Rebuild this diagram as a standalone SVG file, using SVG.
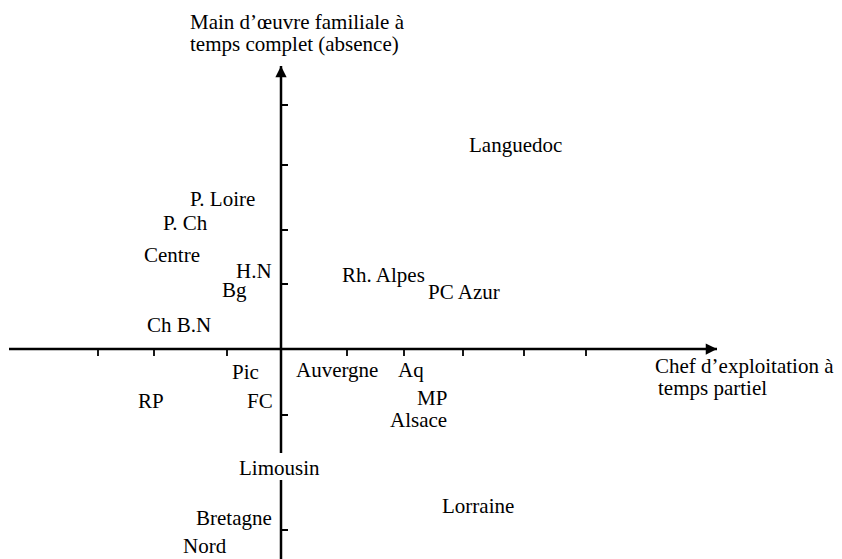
<svg xmlns="http://www.w3.org/2000/svg" width="842" height="559" viewBox="0 0 842 559">
<style>
text{font-family:"Liberation Serif","Times New Roman",serif;font-size:21px;fill:#000}
.ax{stroke:#000;stroke-width:2.5;fill:none}
.tk{stroke:#000;stroke-width:1.8;fill:none}
</style>
<defs>
<marker id="ah" viewBox="0 0 10 10" refX="10" refY="5" markerWidth="7.5" markerHeight="4.5" markerUnits="strokeWidth" orient="auto"><path d="M0,0 L10,5 L0,10 Z" fill="#000"/></marker>
</defs>
<rect width="842" height="559" fill="#fff"/>
<g id="connectors">
<path class="ax" d="M9,349 H717" marker-end="url(#ah)"/>
<path class="ax" d="M281,453 V66" marker-end="url(#ah)"/>
<path class="ax" d="M281,480 V559"/>
<path class="tk" d="M98,349 v7 M154,349 v7 M227,349 v7 M347,349 v7 M404,349 v7 M463,349 v7 M524,349 v7 M586,349 v7"/>
<path class="tk" d="M281,105 h7 M281,165 h7 M281,230 h7 M281,284 h7 M281,415 h7 M281,530 h7"/>
</g>
<g id="axis-y-label"><text x="190" y="29">Main d’œuvre familiale à</text><text x="190" y="51">temps complet (absence)</text></g>
<g id="axis-x-label"><text x="655" y="373">Chef d’exploitation à</text><text x="658" y="395">temps partiel</text></g>
<g id="languedoc"><text x="469" y="152">Languedoc</text></g>
<g id="ploire"><text x="190" y="206">P. Loire</text></g>
<g id="pch"><text x="163" y="230">P. Ch</text></g>
<g id="centre"><text x="144" y="262">Centre</text></g>
<g id="hn"><text x="236" y="278">H.N</text></g>
<g id="bg"><text x="222" y="297">Bg</text></g>
<g id="rhalpes"><text x="342" y="282">Rh. Alpes</text></g>
<g id="pcazur"><text x="428" y="299">PC Azur</text></g>
<g id="chbn"><text x="147" y="332">Ch B.N</text></g>
<g id="pic"><text x="232" y="379">Pic</text></g>
<g id="auvergne"><text x="296" y="377">Auvergne</text></g>
<g id="aq"><text x="398" y="377">Aq</text></g>
<g id="rp"><text x="138" y="408">RP</text></g>
<g id="fc"><text x="247" y="408">FC</text></g>
<g id="mp"><text x="417" y="405">MP</text></g>
<g id="alsace"><text x="390" y="427">Alsace</text></g>
<g id="limousin"><text x="239" y="475">Limousin</text></g>
<g id="lorraine"><text x="442" y="513">Lorraine</text></g>
<g id="bretagne"><text x="196" y="525">Bretagne</text></g>
<g id="nord"><text x="183" y="553">Nord</text></g>
</svg>
